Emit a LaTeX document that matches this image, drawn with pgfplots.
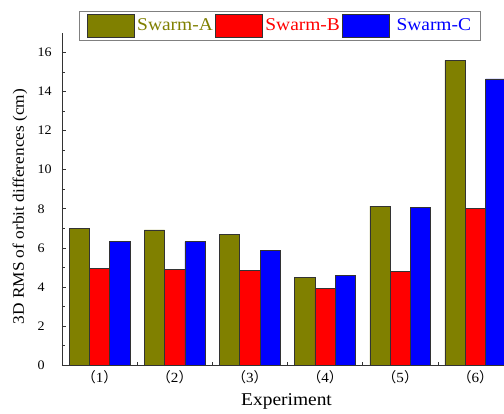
\documentclass[border=0pt]{standalone}
\usepackage{pgfplots}
\pgfplotsset{compat=1.18}
\usepackage{fontspec}
\setmainfont[FakeStretch=1.08]{Liberation Serif}
\newfontfamily\cjk{Noto Sans CJK SC}
\definecolor{olivec}{RGB}{128,128,0}
\definecolor{redc}{RGB}{255,0,0}
\definecolor{bluec}{RGB}{0,0,255}
\begin{document}
\begin{tikzpicture}
\begin{axis}[
  at={(0,0)}, anchor=south west,
  scale only axis, width=442pt, height=332pt,
  ybar=0pt, bar width=20.3pt,
  xmin=0.5, xmax=6.38, ymin=0, ymax=17,
  clip=true,
  axis x line*=bottom, axis y line*=left,
  axis line style={line width=0.7pt, black!80},
  tick align=inside,
  xtick={1,2,3,4,5,6},
  xticklabels={{\cjk （}1{\cjk ）},{\cjk （}2{\cjk ）},{\cjk （}3{\cjk ）},{\cjk （}4{\cjk ）},{\cjk （}5{\cjk ）},{\cjk （}6{\cjk ）}},
  minor xtick={1.5,2.5,3.5,4.5,5.5},
  ytick={0,2,...,16}, minor y tick num=1,
  major tick length=4pt, minor tick length=3pt,
  tick style={black!80, line width=0.6pt},
  /pgf/number format/assume math mode=true,
  tick label style={font=\fontsize{13}{15}\selectfont},
  xticklabel style={yshift=-2pt, font=\fontsize{14}{16}\selectfont},
  yticklabel style={anchor=west, xshift=-28pt},
  xlabel={Experiment},
  ylabel={3D RMS of orbit differences (cm)},
  xlabel style={font=\fontsize{18}{20}\selectfont, at={(axis description cs:0.508,-0.111)}, anchor=center},
  ylabel style={font=\fontsize{16}{18}\selectfont, at={(axis description cs:-0.095,0.477)}, anchor=center, rotate=0},
  legend columns=3,
  legend style={at={(axis description cs:0.039,1.066)}, anchor=north west,
    draw=gray, line width=0.8pt, fill=white, inner xsep=7pt, inner ysep=2.5pt,
    font=\fontsize{18}{20}\selectfont,
    nodes={inner sep=2pt},
    /tikz/every even column/.append style={column sep=0pt},
    /tikz/every odd column/.append style={column sep=1pt}},
  legend image code/.code={\draw[#1, line width=0.6pt] (0pt,-11.5pt) rectangle (47pt,11.5pt);},
  every axis plot/.append style={draw=black!80, line width=0.6pt},
]
\addplot[fill=olivec, draw=black!80] coordinates {(1,7.0) (2,6.92) (3,6.68) (4,4.5) (5,8.13) (6,15.6)};
\addlegendentry{\textcolor{olivec}{Swarm-A}}
\addplot[fill=redc, draw=black!80] coordinates {(1,4.96) (2,4.9) (3,4.86) (4,3.93) (5,4.79) (6,8.0)};
\addlegendentry{\textcolor{redc}{Swarm-B}}
\addplot[fill=bluec, draw=black!80] coordinates {(1,6.31) (2,6.32) (3,5.85) (4,4.58) (5,8.07) (6,14.65)};
\addlegendentry{\textcolor{bluec}{\hspace{4pt}Swarm-C}\hspace{16pt}}
\end{axis}
\pgfresetboundingbox
\useasboundingbox (-62pt,-49pt) rectangle (442pt,365pt);
\end{tikzpicture}
\end{document}
